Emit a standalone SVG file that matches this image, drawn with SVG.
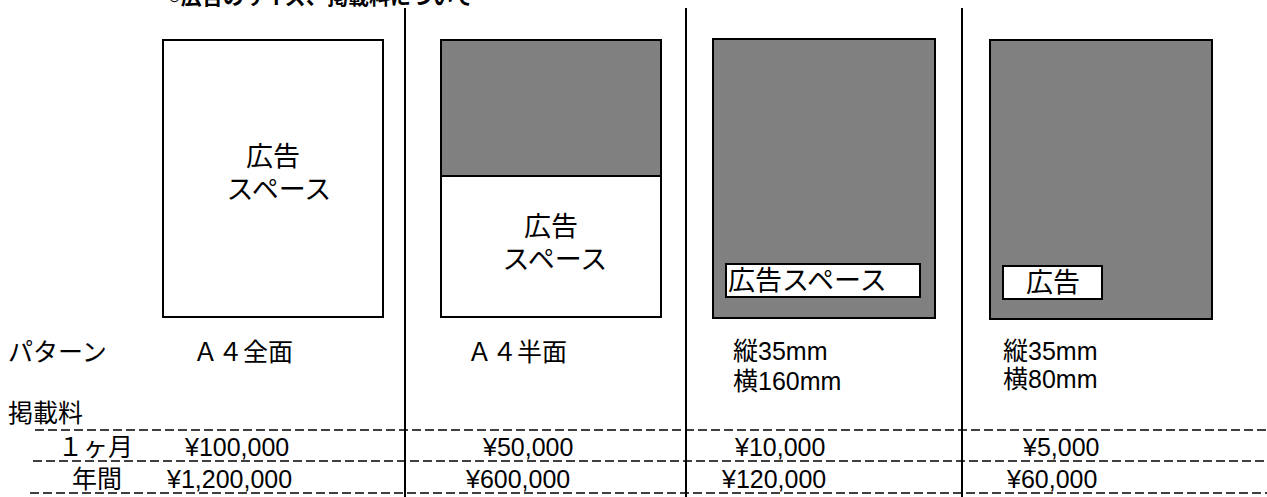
<svg xmlns="http://www.w3.org/2000/svg" width="1267" height="497" viewBox="0 0 1267 497">
<style>
.t{font-family:"Liberation Sans","Noto Sans CJK JP",sans-serif;font-size:25px;fill:#000}
.b{font-size:27px}
.c{text-anchor:middle}
.box{stroke:#000;stroke-width:2}
.g{fill:#808080}
.w{fill:#fff}
.v{stroke:#000;stroke-width:2}
.d{stroke:#000;stroke-width:1.6;stroke-dasharray:9 4}
</style>
<rect width="1267" height="497" fill="#fff"/>
<text class="t" x="168" y="4" style="font-weight:bold;font-size:21px">○広告のサイズ、掲載料について</text>
<g id="connectors">
<line class="v" x1="405" y1="8" x2="405" y2="497"/>
<line class="v" x1="686" y1="8" x2="686" y2="497"/>
<line class="v" x1="962" y1="8" x2="962" y2="497"/>
<line class="d" x1="35" y1="430" x2="1267" y2="430"/>
<line class="d" x1="33" y1="461" x2="1267" y2="461"/>
<line class="d" x1="30" y1="493" x2="1267" y2="493"/>
</g>
<g id="full">
<rect class="box w" x="163" y="40" width="220" height="277"/>
<text class="t b c" x="273" y="166">広告</text>
<text class="t b c" x="279" y="199">スペース</text>
</g>
<g id="half">
<rect class="box g" x="441" y="40" width="220" height="136"/>
<rect class="box w" x="441" y="176" width="220" height="141"/>
<text class="t b c" x="551" y="236">広告</text>
<text class="t b c" x="555" y="269">スペース</text>
</g>
<g id="s160">
<rect class="box g" x="713" y="39" width="222" height="279"/>
<rect class="box w" x="726" y="264" width="194" height="33"/>
<text class="t b" x="728" y="290">広告スペース</text>
</g>
<g id="s80">
<rect class="box g" x="990" y="40" width="222" height="279"/>
<rect class="box w" x="1003" y="266" width="99" height="33"/>
<text class="t b c" x="1053" y="292">広告</text>
</g>
<g id="labels">
<text class="t" x="8" y="361">パターン</text>
<text class="t" x="193" y="361">Ａ４全面</text>
<text class="t" x="467" y="361">Ａ４半面</text>
<text class="t" x="733" y="360">縦35mm</text>
<text class="t" x="733" y="390">横160mm</text>
<text class="t" x="1003" y="360">縦35mm</text>
<text class="t" x="1003" y="388">横80mm</text>
<text class="t" x="8" y="422">掲載料</text>
<text class="t" x="58" y="456">１ヶ月</text>
<text class="t" x="72" y="488">年間</text>
<text class="t" x="185" y="456">¥100,000</text>
<text class="t" x="167" y="488">¥1,200,000</text>
<text class="t" x="483" y="456">¥50,000</text>
<text class="t" x="466" y="488">¥600,000</text>
<text class="t" x="735" y="456">¥10,000</text>
<text class="t" x="722" y="488">¥120,000</text>
<text class="t" x="1023" y="456">¥5,000</text>
<text class="t" x="1007" y="488">¥60,000</text>
</g>
</svg>
